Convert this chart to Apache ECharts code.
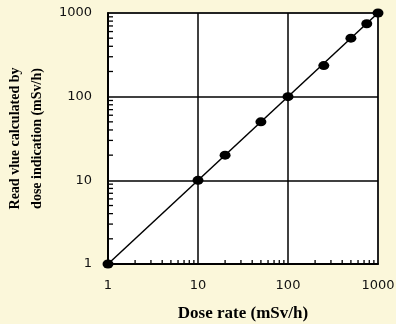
<!DOCTYPE html>
<html><head><meta charset="utf-8">
<script src="https://cdn.jsdelivr.net/npm/echarts@6/dist/echarts.min.js"></script>
<style>html,body{margin:0;padding:0;background:#FBF7DA;}#c{width:396px;height:324px;}</style>
</head><body><div id="c"></div>
<script>
var doseRate = [1, 10, 20, 50, 100, 250, 500, 750, 1000];
var readValue = [1, 10, 20, 50, 100, 235, 500, 745, 1000];
var idealLine = [[1, 1], [1000, 1000]];
var tickLabels = ['1', '10', '100', '1000'];
var xName = 'Dose rate (mSv/h)';
var yName = 'Read vlue calculated by\ndose indication (mSv/h)';

var minorVals = [];
[1, 10, 100].forEach(function (d) { for (var k = 2; k <= 9; k++) minorVals.push(d * k); });

var chart = echarts.init(document.getElementById('c'));
var labelStyle = { color: '#111', fontFamily: 'DejaVu Sans', fontSize: 13 };
function axis(isX) {
  return {
    type: 'log', logBase: 10, min: 1, max: 1000,
    name: isX ? xName : yName,
    nameLocation: 'middle',
    nameGap: isX ? 41 : 60,
    nameTextStyle: isX
      ? { color: '#000', fontFamily: 'Liberation Serif', fontWeight: 'bold', fontSize: 17 }
      : { color: '#000', fontFamily: 'Liberation Serif', fontWeight: 'bold', fontSize: 14, lineHeight: 22 },
    axisLine: { show: true, lineStyle: { color: '#000', width: 2 } },
    axisTick: { show: false },
    splitLine: { show: true, lineStyle: { color: '#000', width: 1.5 } },
    axisLabel: Object.assign({ margin: isX ? 15 : 16, formatter: function (v) { var s = String(Math.round(v)); return tickLabels.indexOf(s) >= 0 ? s : ''; } }, labelStyle)
  };
}
function tickSeries(isX) {
  return {
    type: 'custom', clip: false, z: 5, silent: true,
    data: minorVals.map(function (v) { return isX ? [v, 1] : [1, v]; }),
    encode: { x: 0, y: 1 },
    renderItem: function (params, api) {
      var p = api.coord([api.value(0), api.value(1)]);
      var shape = isX ? { x1: p[0], y1: p[1], x2: p[0], y2: p[1] - 4 } : { x1: p[0], y1: p[1], x2: p[0] + 5, y2: p[1] };
      return { type: 'line', shape: shape, style: { stroke: '#000', lineWidth: 1.3 } };
    }
  };
}
chart.setOption({
  animation: false,
  backgroundColor: '#FBF7DA',
  grid: { left: 108, right: 18, top: 13, bottom: 60, outerBoundsMode: 'none', containLabel: false, show: true, backgroundColor: '#fff', borderColor: '#8a8a8a', borderWidth: 2 },
  xAxis: axis(true),
  yAxis: axis(false),
  series: [
    { type: 'line', data: idealLine, symbol: 'none', lineStyle: { color: '#000', width: 1.5 }, z: 3 },
    { type: 'scatter', data: doseRate.map(function (x, i) { return [x, readValue[i]]; }), symbol: 'circle', symbolSize: [11, 9], itemStyle: { color: '#000', opacity: 1 }, z: 4 },
    tickSeries(true),
    tickSeries(false)
  ]
});
</script></body></html>
